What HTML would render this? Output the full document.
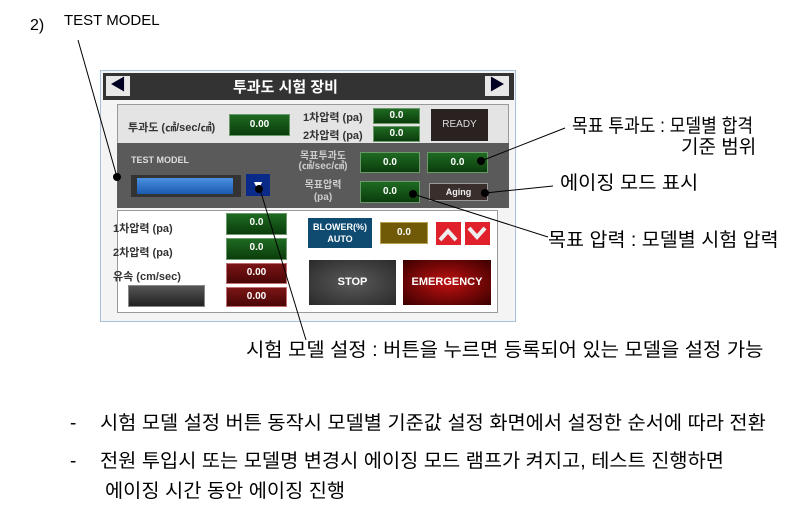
<!DOCTYPE html>
<html><head><meta charset="utf-8"><style>
body{margin:0;width:799px;height:506px;background:#fff;position:relative;overflow:hidden;font-family:"Liberation Sans","Noto Sans CJK KR",sans-serif}
.a{position:absolute}
.t{position:absolute;white-space:nowrap;color:#000}
.g{position:absolute;background:linear-gradient(#1f6a22,#0b3d0c);border:1px solid #6a9a6a;color:#fff;font-size:10px;font-weight:bold;text-align:center;box-sizing:border-box}
.r{position:absolute;background:linear-gradient(#7a1515,#4a0505);border:1px solid #c07070;color:#fff;font-size:10px;font-weight:bold;text-align:center;box-sizing:border-box}
.s{font-size:11px;font-weight:bold;color:#333}
.ann{font-size:19px;line-height:22px;transform-origin:0 0}
</style></head><body>
<div class="t" style="left:30px;top:17px;font-size:16px">2)</div>
<div class="t" style="left:64px;top:12px;font-size:15px">TEST MODEL</div>
<!-- panel -->
<div class="a" style="left:100px;top:70px;width:414px;height:250px;border:1px solid #a8c0d8;background:#f4f4f4"></div>
<div class="a" style="left:103px;top:73px;width:411px;height:27px;background:#333"></div>
<div class="a" style="left:106px;top:76px;width:24px;height:20px;background:#e8e8e8;color:#002;font-size:16px;line-height:20px;text-align:center">◀</div>
<div class="a" style="left:485px;top:76px;width:24px;height:20px;background:#e8e8e8;color:#002;font-size:16px;line-height:20px;text-align:center">▶</div>
<div class="t" style="left:233px;top:76px;color:#fff;font-size:15px;font-weight:bold">투과도 시험 장비</div>
<div class="a" style="left:117px;top:104px;width:390px;height:39px;background:#e4e4e4;border:1px solid #999"></div>
<div class="t s" style="left:128px;top:119px">투과도 (㎠/sec/㎠)</div>
<div class="g" style="left:229px;top:114px;width:61px;height:22px;line-height:20px">0.00</div>
<div class="t s" style="left:303px;top:109px">1차압력 (pa)</div>
<div class="t s" style="left:303px;top:127px">2차압력 (pa)</div>
<div class="g" style="left:373px;top:108px;width:47px;height:16px;line-height:14px">0.0</div>
<div class="g" style="left:373px;top:126px;width:47px;height:16px;line-height:14px">0.0</div>
<div class="a" style="left:431px;top:109px;width:57px;height:32px;background:#2a2220;color:#ddd;font-size:10px;line-height:32px;text-align:center">READY</div>
<div class="a" style="left:117px;top:143px;width:392px;height:65px;background:#5a5a5a"></div>
<div class="t" style="left:131px;top:155px;color:#ddd;font-size:9px;font-weight:bold">TEST MODEL</div>
<div class="a" style="left:131px;top:175px;width:110px;height:22px;background:#333"></div>
<div class="a" style="left:137px;top:178px;width:96px;height:16px;background:linear-gradient(#4a90e0,#1a5ab0)"></div>
<div class="a" style="left:246px;top:174px;width:24px;height:22px;background:#0a2a8a;color:#fff;font-size:14px;line-height:22px;text-align:center">▼</div>
<div class="t" style="left:293px;top:152px;width:60px;color:#ccc;font-size:10px;font-weight:bold;text-align:center;line-height:10px">목표투과도<br>(㎤/sec/㎤)</div>
<div class="t" style="left:293px;top:180px;width:60px;color:#ccc;font-size:10px;font-weight:bold;text-align:center;line-height:12px">목표압력<br>(pa)</div>
<div class="g" style="left:360px;top:152px;width:60px;height:21px;line-height:19px">0.0</div>
<div class="g" style="left:427px;top:152px;width:61px;height:21px;line-height:19px">0.0</div>
<div class="g" style="left:360px;top:181px;width:60px;height:22px;line-height:20px">0.0</div>
<div class="a" style="left:429px;top:183px;width:59px;height:18px;background:#3a2e2c;border:1px solid #999;box-sizing:border-box;color:#eee;font-size:9px;font-weight:bold;line-height:16px;text-align:center">Aging</div>
<div class="a" style="left:117px;top:210px;width:379px;height:101px;border:1px solid #999;background:#fff"></div>
<div class="t s" style="left:113px;top:220px">1차압력 (pa)</div>
<div class="t s" style="left:113px;top:244px">2차압력 (pa)</div>
<div class="t s" style="left:113px;top:268px">유속 (cm/sec)</div>
<div class="g" style="left:226px;top:213px;width:61px;height:22px;line-height:18px">0.0</div>
<div class="g" style="left:226px;top:238px;width:61px;height:22px;line-height:18px">0.0</div>
<div class="r" style="left:226px;top:263px;width:61px;height:21px;line-height:18px">0.00</div>
<div class="r" style="left:226px;top:287px;width:61px;height:20px;line-height:18px">0.00</div>
<div class="a" style="left:128px;top:285px;width:75px;height:20px;background:linear-gradient(#555,#222);border:1px solid #888"></div>
<div class="a" style="left:308px;top:218px;width:64px;height:30px;background:#0f4a70;color:#fff;font-size:9px;font-weight:bold;text-align:center;line-height:12px;padding-top:3px;box-sizing:border-box">BLOWER(%)<br>AUTO</div>
<div class="a" style="left:380px;top:222px;width:48px;height:22px;background:#705a08;border:1px solid #b9a050;box-sizing:border-box;color:#fff;font-size:10px;font-weight:bold;line-height:20px;text-align:center">0.0</div>
<div class="a" style="left:436px;top:222px;width:25px;height:23px;background:#e0202a"></div>
<div class="a" style="left:465px;top:222px;width:25px;height:23px;background:#e0202a"></div>
<div class="a" style="left:309px;top:260px;width:87px;height:45px;background:radial-gradient(#5a5a5a,#2a2a2a);color:#fff;font-size:11px;font-weight:bold;line-height:45px;text-align:center">STOP</div>
<div class="a" style="left:403px;top:260px;width:88px;height:45px;background:radial-gradient(#c01010,#3a0000);color:#fff;font-size:11px;font-weight:bold;line-height:45px;text-align:center">EMERGENCY</div>
<svg class="a" style="left:0;top:0" width="799" height="506">
<g fill="none" stroke="#eee" stroke-width="4">
<polyline points="440,240 448,231 456,240"/>
<polyline points="469,228 477,237 485,228"/>
</g>
<g stroke="#000" stroke-width="1">
<line x1="78" y1="40" x2="117" y2="177"/>
<line x1="259" y1="186" x2="306" y2="340"/>
<line x1="565" y1="128" x2="481" y2="161"/>
<line x1="553" y1="186" x2="485" y2="193"/>
<line x1="413" y1="194" x2="548" y2="237"/>
</g>
<g fill="#000"><circle cx="117" cy="177" r="4"/><circle cx="259" cy="189" r="4"/><circle cx="481" cy="161" r="4"/><circle cx="485" cy="193" r="4"/><circle cx="413" cy="194" r="4"/></g>
</svg>
<div class="t ann" style="left:572px;top:116px;transform:scaleX(0.9)">목표 투과도 : 모델별 합격</div>
<div class="t ann" style="left:681px;top:137px">기준 범위</div>
<div class="t ann" style="left:560px;top:173px;transform:scaleX(1.04)">에이징 모드 표시</div>
<div class="t ann" style="left:548px;top:230px;transform:scaleX(1.03)">목표 압력 : 모델별 시험 압력</div>
<div class="t ann" style="left:246px;top:340px;transform:scaleX(1.045)">시험 모델 설정 : 버튼을 누르면 등록되어 있는 모델을 설정 가능</div>
<div class="t ann" style="left:70px;top:413px">-</div>
<div class="t ann" style="left:100px;top:413px;transform:scaleX(1.04)">시험 모델 설정 버튼 동작시 모델별 기준값 설정 화면에서 설정한 순서에 따라 전환</div>
<div class="t ann" style="left:70px;top:451px">-</div>
<div class="t ann" style="left:100px;top:451px;transform:scaleX(1.04)">전원 투입시 또는 모델명 변경시 에이징 모드 램프가 켜지고, 테스트 진행하면</div>
<div class="t ann" style="left:105px;top:481px;transform:scaleX(1.04)">에이징 시간 동안 에이징 진행</div>
</body></html>
